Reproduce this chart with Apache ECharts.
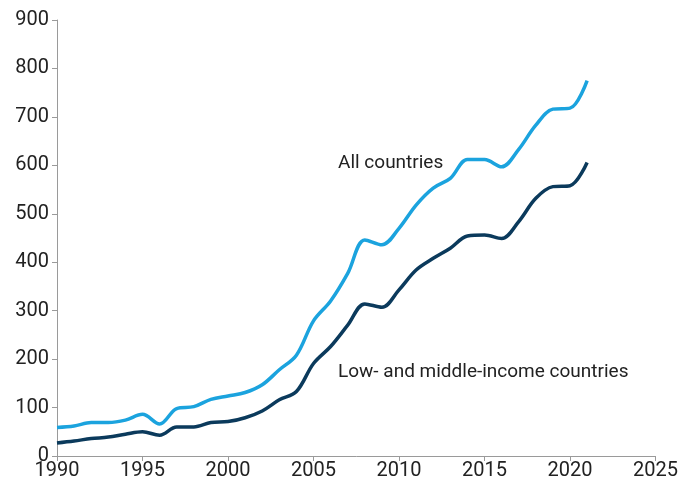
<!DOCTYPE html>
<html><head><meta charset="utf-8">
<script src="https://cdn.jsdelivr.net/npm/echarts@6/dist/echarts.min.js"></script>
<style>html,body{margin:0;padding:0;background:#fff}#c{width:681px;height:489px}</style>
</head><body><div id="c"></div>
<script>
const years = [1990,1991,1992,1993,1994,1995,1996,1997,1998,1999,2000,2001,2002,2003,2004,2005,2006,2007,2008,2009,2010,2011,2012,2013,2014,2015,2016,2017,2018,2019,2020,2021];
const allCountries = [59,62,69,69,74,86,66,98,102,117,124,131,147,178,208,279,320,377,446,436,470,518,553,573,612,612,597,633,683,716,718,775];
const lowMiddle = [27,31,36,39,45,50,43,60,60,69,71,79,93,116,133,191,226,270,314,307,343,384,408,429,454,456,449,484,532,556,558,606];
const seriesNames = ["All countries","Low- and middle-income countries"];

const chart = echarts.init(document.getElementById('c'), null, {renderer:'canvas'});
const font = 'Roboto';
chart.setOption({
  animation:false,
  grid:{left:57,right:22,top:20,bottom:33,containLabel:false},
  xAxis:{type:'value',min:1990,max:2025,interval:5,
    axisLine:{show:true,lineStyle:{color:'#9a9a9a',width:1}},
    axisTick:{show:true,length:5,lineStyle:{color:'#9a9a9a'}},
    axisLabel:{color:'#222',fontFamily:font,fontSize:20,margin:5,formatter:v=>String(v)},
    splitLine:{show:false}},
  yAxis:{type:'value',min:0,max:900,interval:100,
    axisLine:{show:true,lineStyle:{color:'#9a9a9a',width:1}},
    axisTick:{show:true,length:5,lineStyle:{color:'#9a9a9a'}},
    axisLabel:{color:'#222',fontFamily:font,fontSize:20,margin:8,formatter:v=>String(v)},
    splitLine:{show:false}},
  series:[
    {name:seriesNames[0],type:'line',smooth:0.35,symbol:'none',
     lineStyle:{color:'#1ba3de',width:3.5},
     data:years.map((y,i)=>[y,allCountries[i]])},
    {name:seriesNames[1],type:'line',smooth:0.35,symbol:'none',
     lineStyle:{color:'#0b3a5c',width:3.5},
     data:years.map((y,i)=>[y,lowMiddle[i]])}
  ],
  graphic:[
    {type:'text',left:338,top:154,style:{text:seriesNames[0],fill:'#222',font:'19px Roboto'}},
    {type:'text',left:338,top:363,style:{text:seriesNames[1],fill:'#222',font:'19px Roboto'}}
  ]
});
</script></body></html>
